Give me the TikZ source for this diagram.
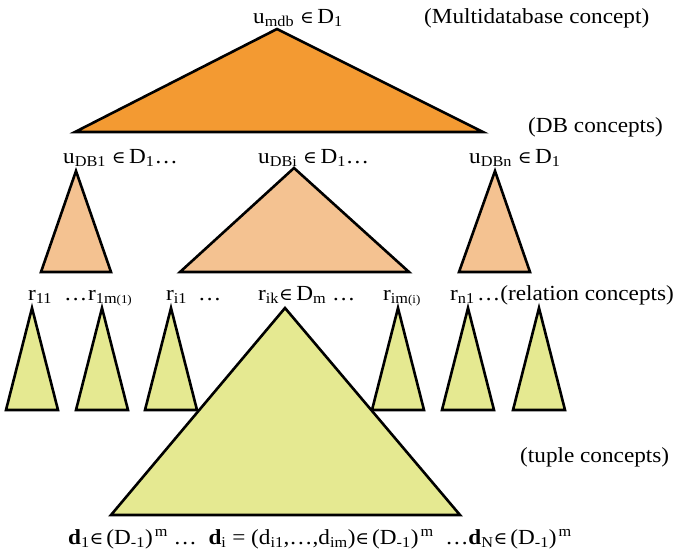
\documentclass[tikz,border=0pt]{standalone}
\usepackage{fontspec}
\setmainfont[FakeStretch=1.08]{Liberation Serif}
\newfontfamily\symfont[Scale=0.8,FakeStretch=1.08]{DejaVu Serif}
\usetikzlibrary{positioning}
\definecolor{mdborange}{HTML}{F39A32}
\definecolor{dborange}{HTML}{F4C291}
\definecolor{tupyellow}{HTML}{E5E991}
\tikzset{
  lbl/.style={
    inner sep=0pt,
    anchor=base west,
    font=\fontsize{21.5}{25}\selectfont
  },
  cone/.style={
    draw=black,
    line width=2.6pt,
    line join=miter
  }
}
\newcommand{\sbs}[1]{\textsubscript{#1}}
\newcommand{\sps}[1]{\textsuperscript{#1}}
\newcommand{\tinysub}[1]{{\fontsize{12}{12}\selectfont #1}}
\newcommand{\inn}{{\symfont ∈}}
\newcommand{\elt}{\ \inn\,}
\newcommand{\Dm}{\inn\kern3pt(D\sbs{-1})\kern2pt\sps{m}}

\begin{document}
\begin{tikzpicture}[x=1pt, y=-1pt]
\useasboundingbox (0,0) rectangle (679,552);

% --- Multidatabase concept ---
\filldraw[cone, fill=mdborange] (277,29) -- (483,132) -- (75,132) -- cycle;
\node[lbl] (umdb) at (253,23) {u\sbs{mdb}\elt D\sbs{1}};
\node[lbl] (mdbtxt) at (424,23) {(Multidatabase concept)};

% --- DB concepts ---
\filldraw[cone, fill=dborange] (76,171) -- (111,272) -- (41,272) -- cycle;
\filldraw[cone, fill=dborange] (294,168) -- (409,272) -- (180,272) -- cycle;
\filldraw[cone, fill=dborange] (495,171) -- (530,272) -- (459,272) -- cycle;
\node[lbl] (dbtxt) at (528,132) {(DB concepts)};
\node[lbl] (udb1) at (63,163)  {u\sbs{DB1}\elt D\sbs{1}\dots};
\node[lbl] (udbi) at (258,163) {u\sbs{DBi}\elt D\sbs{1}\dots};
\node[lbl] (udbn) at (469,163) {u\sbs{DBn}\elt D\sbs{1}};

% --- relation concepts ---
\foreach \ax in {32,102,171,398,468,539}
  \filldraw[cone, fill=tupyellow] (\ax,308) -- (\ax+26,410) -- (\ax-26,410) -- cycle;
\node[lbl] (r11)  at (28,300)  {r\sbs{11}};
\node[lbl] (dt1)  at (64,300)  {\dots};
\node[lbl] (r1m)  at (88,300)  {r\sbs{1m\tinysub{(1)}}};
\node[lbl] (ri1)  at (166,300) {r\sbs{i1}};
\node[lbl] (dt2)  at (198,300) {\dots};
\node[lbl] (rik)  at (258,300) {r\sbs{ik}\inn\,D\sbs{m} \dots};
\node[lbl] (rim)  at (383,300) {r\sbs{im\tinysub{(i)}}};
\node[lbl] (rn1)  at (450,300) {r\sbs{n1}};
\node[lbl] (reltxt) at (477,300) {\dots(relation concepts)};

% --- tuple concepts ---
\filldraw[cone, fill=tupyellow] (285,308) -- (460,515) -- (111,515) -- cycle;
\node[lbl] (tuptxt) at (520,462) {(tuple concepts)};
\node[lbl] (tuples) at (68,544)
  {\textbf{d}\sbs{1}\Dm\ \dots\ \ \textbf{d}\sbs{i} = (d\sbs{i1},\dots,d\sbs{im})\Dm\ \ \dots\textbf{d}\sbs{N}\Dm};

\end{tikzpicture}
\end{document}
